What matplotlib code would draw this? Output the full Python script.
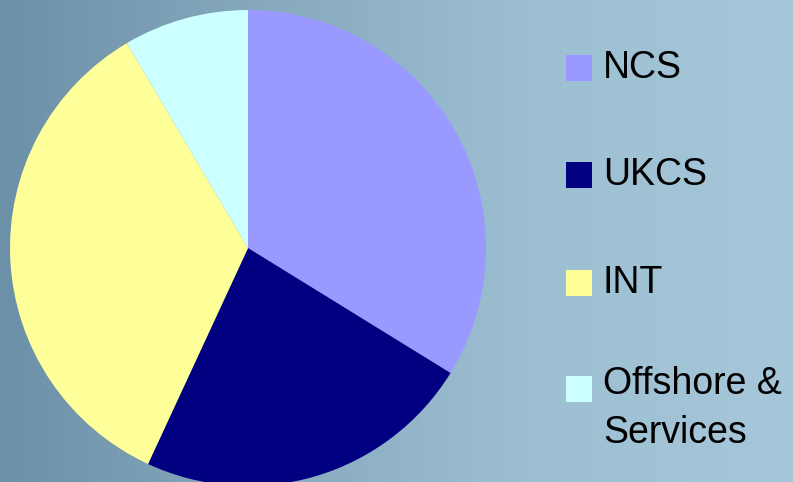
import matplotlib
matplotlib.use("Agg")
import matplotlib.pyplot as plt
import numpy as np
from matplotlib.colors import LinearSegmentedColormap
from matplotlib.patches import Rectangle

labels = ["NCS", "UKCS", "INT", "Offshore &\nServices"]
shares = [33.8, 23.1, 34.6, 8.5]
colors = ["#9999FF", "#000080", "#FFFF99", "#CCFFFF"]

W, H = 793, 482
fig = plt.figure(figsize=(W / 100, H / 100), dpi=100)

# background: blue-grey photo-like gradient
bg = fig.add_axes([0, 0, 1, 1])
bg_cmap = LinearSegmentedColormap.from_list("bg", ["#6C90A7", "#86A9BE", "#9CBFD2", "#A6C7D9"])
grad = np.tile(np.linspace(0, 1, 256), (64, 1))
bg.imshow(grad, cmap=bg_cmap, aspect="auto", extent=[0, W, 0, H])
bg.set_xlim(0, W)
bg.set_ylim(0, H)
bg.axis("off")

ax = fig.add_axes([0, 0, 1, 1])
wedges, _ = ax.pie(shares, colors=colors, startangle=90, counterclock=False,
                   center=(248, 234), radius=238, frame=True)
ax.set_xlim(0, W)
ax.set_ylim(0, H)
ax.set_aspect("equal")
ax.axis("off")

# legend drawn by hand so the square lines up with the first text line
row_y = [68, 175, 283, 389]
for lab, col, y in zip(labels, colors, row_y):
    ax.add_patch(Rectangle((566, H - y - 13), 26, 26, facecolor=col, edgecolor="none"))
    if "\n" in lab:
        ax.text(603, H - y + 23, lab, fontsize=27, family="Liberation Sans",
                color="black", va="top", linespacing=1.45)
    else:
        ax.text(603, H - y, lab, fontsize=27, family="Liberation Sans",
                color="black", va="center")

plt.savefig("out.png", dpi=100)
